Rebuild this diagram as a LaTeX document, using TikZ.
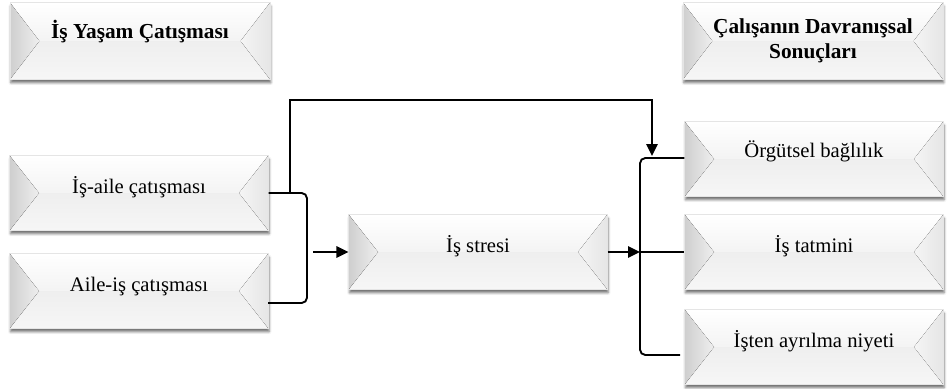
\documentclass[tikz,border=0pt]{standalone}
\usepackage{fontspec}
\setmainfont{Liberation Serif}
\usetikzlibrary{arrows.meta,shadows.blur}
\tikzset{
  bevel/.style={rectangle, minimum width=194pt, minimum height=56pt, inner sep=0pt,
    draw=gray!20, line width=0.4pt,
    font=\fontsize{15.5}{18.5}\selectfont,
    blur shadow={shadow xshift=0.6pt, shadow yshift=-2.6pt, shadow blur radius=1.8pt, shadow opacity=55},
    path picture={
      \path (path picture bounding box.north west) coordinate (bnw)
            (path picture bounding box.north east) coordinate (bne)
            (path picture bounding box.south west) coordinate (bsw)
            (path picture bounding box.south east) coordinate (bse)
            ([xshift=22pt]path picture bounding box.west) coordinate (bpw)
            ([xshift=-22pt]path picture bounding box.east) coordinate (bpe);
      \fill[gray!10] (bnw) rectangle (bse);
      \fill[top color=white, bottom color=gray!9] (bnw) -- (bne) -- (bpe) -- (bpw) -- cycle;
      \fill[top color=gray!13, bottom color=gray!7] (bpw) -- (bpe) -- (bse) -- (bsw) -- cycle;
      \fill[left color=gray!38, right color=gray!13] (bnw) -- (bpw) -- (bsw) -- cycle;
      \fill[left color=gray!8, right color=gray!20] (bne) -- (bse) -- (bpe) -- cycle;
    }},
  oneline/.style={text height=10pt, text depth=10pt},
  title/.style={font=\fontsize{16}{19}\selectfont\bfseries},
  conn/.style={line width=1.4pt, black},
  tip/.style={-{Triangle[length=9pt,width=8.5pt]}}
}
\begin{document}
\begin{tikzpicture}[x=0.75pt,y=-0.75pt]
\useasboundingbox (0,0) rectangle (947,389);

\node[bevel, oneline, title, minimum width=195pt, minimum height=57.5pt, text depth=14pt] (t1) at (140,41) {İş Yaşam Çatışması};
\node[bevel, title, align=center, minimum width=195pt, minimum height=57.5pt] (t2) at (813,41) {Çalışanın Davranışsal\\Sonuçları};

\node[bevel, oneline] (ia) at (139,193) {İş-aile çatışması};
\node[bevel, oneline] (ai) at (139,291) {Aile-iş çatışması};
\node[bevel, oneline] (st) at (478,252) {İş stresi};
\node[bevel, oneline, text depth=12pt] (ob) at (814,159) {Örgütsel bağlılık};
\node[bevel, oneline] (it) at (814,252) {İş tatmini};
\node[bevel, oneline] (ia2) at (814,347) {İşten ayrılma niyeti};

% left bracket
\coordinate (lbb) at (268,303);
\coordinate (lbv) at (307,303);
\coordinate (lbm) at (313,252);
\draw[conn, rounded corners=4pt] (ia.east) -| (lbv) -- (lbb);
\draw[conn, tip] (lbm) -- (st.west);

% top connector
\coordinate (tp) at (290,193);
\coordinate (tq) at (652,156);
\draw[conn, tip] (tp) |- (470,100) -| (tq);

% right bracket
\coordinate (rbt) at (640,158);
\coordinate (rbm) at (640,252);
\coordinate (rbb) at (640,355);
\coordinate (rbe) at (680,355);
\draw[conn, tip] (st.east) -- (rbm);
\draw[conn, rounded corners=4pt] (ob.west |- rbt) -- (rbt) -- (rbb) -- (rbe);
\draw[conn] (rbm) -- (it.west);
\end{tikzpicture}
\end{document}
